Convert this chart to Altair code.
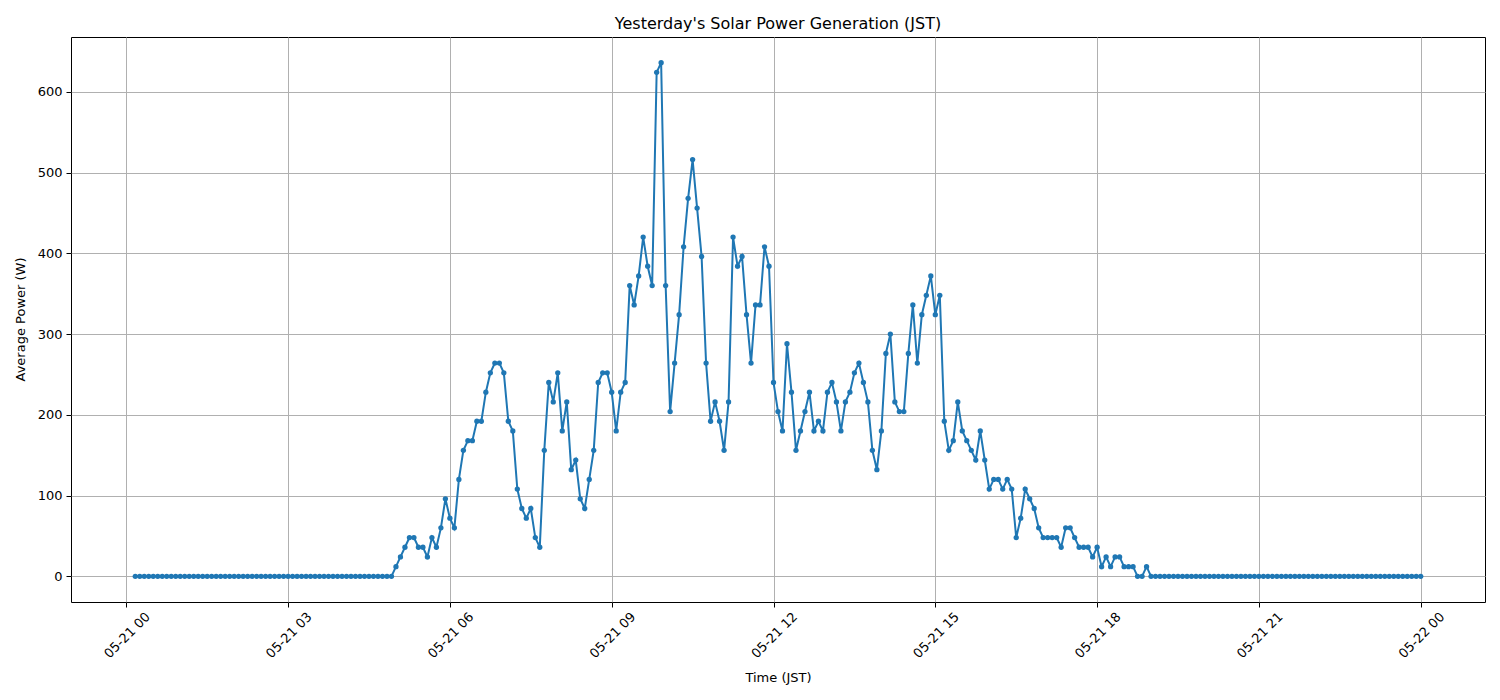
import altair as alt
import pandas as pd

# readings every 5 minutes, 2025-05-21 00:10 .. 05-22 00:00 (JST)
night_before = [0] * 58          # 00:10 .. 04:55
daytime = [
    12, 24, 36, 48, 48, 36, 36, 24, 48, 36, 60, 96,            # 05h
    72, 60, 120, 156, 168, 168, 192, 192, 228, 252, 264, 264,  # 06h
    252, 192, 180, 108, 84, 72, 84, 48, 36, 156, 240, 216,     # 07h
    252, 180, 216, 132, 144, 96, 84, 120, 156, 240, 252, 252,  # 08h
    228, 180, 228, 240, 360, 336, 372, 420, 384, 360, 624, 636,  # 09h
    360, 204, 264, 324, 408, 468, 516, 456, 396, 264, 192, 216,  # 10h
    192, 156, 216, 420, 384, 396, 324, 264, 336, 336, 408, 384,  # 11h
    240, 204, 180, 288, 228, 156, 180, 204, 228, 180, 192, 180,  # 12h
    228, 240, 216, 180, 216, 228, 252, 264, 240, 216, 156, 132,  # 13h
    180, 276, 300, 216, 204, 204, 276, 336, 264, 324, 348, 372,  # 14h
    324, 348, 192, 156, 168, 216, 180, 168, 156, 144, 180, 144,  # 15h
    108, 120, 120, 108, 120, 108, 48, 72, 108, 96, 84, 60,       # 16h
    48, 48, 48, 48, 36, 60, 60, 48, 36, 36, 36, 24,              # 17h
    36, 12, 24, 12, 24, 24, 12, 12, 12, 0, 0, 12,                # 18h
]
night_after = [0] * 61           # 19:00 .. 24:00
power = night_before + daytime + night_after

times = pd.date_range("2025-05-21 00:10", periods=len(power), freq="5min")
time_str = [t.strftime("%Y-%m-%dT%H:%M:%SZ") for t in times]

tick_hours = [0, 3, 6, 9, 12, 15, 18, 21, 24]
y_ticks = [0, 100, 200, 300, 400, 500, 600]

df = pd.DataFrame({"time": time_str, "power": power})

FONT = "DejaVu Sans"
tick_values = [
    alt.DateTime(year=2025, month=5, date=21 + h // 24, hours=h % 24, utc=True)
    for h in tick_hours
]
x_domain = [
    alt.DateTime(year=2025, month=5, date=20, hours=22, minutes=58, seconds=30, utc=True),
    alt.DateTime(year=2025, month=5, date=22, hours=1, minutes=11, seconds=30, utc=True),
]

chart = (
    alt.Chart(df)
    .mark_line(
        color="#1f77b4",
        strokeWidth=2,
        point=alt.OverlayMarkDef(filled=True, size=28, color="#1f77b4", opacity=1),
    )
    .encode(
        x=alt.X(
            "time:T",
            scale=alt.Scale(type="utc", domain=x_domain, nice=False),
            axis=alt.Axis(
                title="Time (JST)",
                values=tick_values,
                labelExpr="utcFormat(datum.value, '%m-%d %H')",
                labelAngle=-45,
                labelAlign="right",
                labelBaseline="top",
                labelOffset=17,
                labelPadding=3,
                titleY=75,
                titleBaseline="middle",
            ),
        ),
        y=alt.Y(
            "power:Q",
            scale=alt.Scale(domain=[-31.8, 667.8], nice=False, zero=False),
            axis=alt.Axis(
                title="Average Power (W)",
                values=y_ticks,
                labelPadding=4,
                titleX=-51,
                titleY=282,
                titleAngle=-90,
                titleBaseline="middle",
                titleAlign="center",
            ),
        ),
    )
    .properties(
        width=1414,
        height=565,
        title=alt.TitleParams(
            "Yesterday's Solar Power Generation (JST)",
            font=FONT,
            fontSize=16,
            fontWeight="normal",
            color="black",
            anchor="middle",
            offset=5,
        ),
        autosize=alt.AutoSizeParams(type="none"),
        padding={"left": 71, "top": 37, "right": 15, "bottom": 98},
    )
    .configure_view(stroke="black", strokeWidth=1)
    .configure_axis(
        domain=False,
        grid=True,
        gridColor="#b0b0b0",
        gridWidth=1,
        tickColor="black",
        tickSize=5,
        tickWidth=1,
        labelFont=FONT,
        labelFontSize=13,
        labelColor="black",
        titleFont=FONT,
        titleFontSize=13,
        titleFontWeight="normal",
        titleColor="black",
    )
)

chart.save("out.html", embed_options={"renderer": "svg", "actions": False})
